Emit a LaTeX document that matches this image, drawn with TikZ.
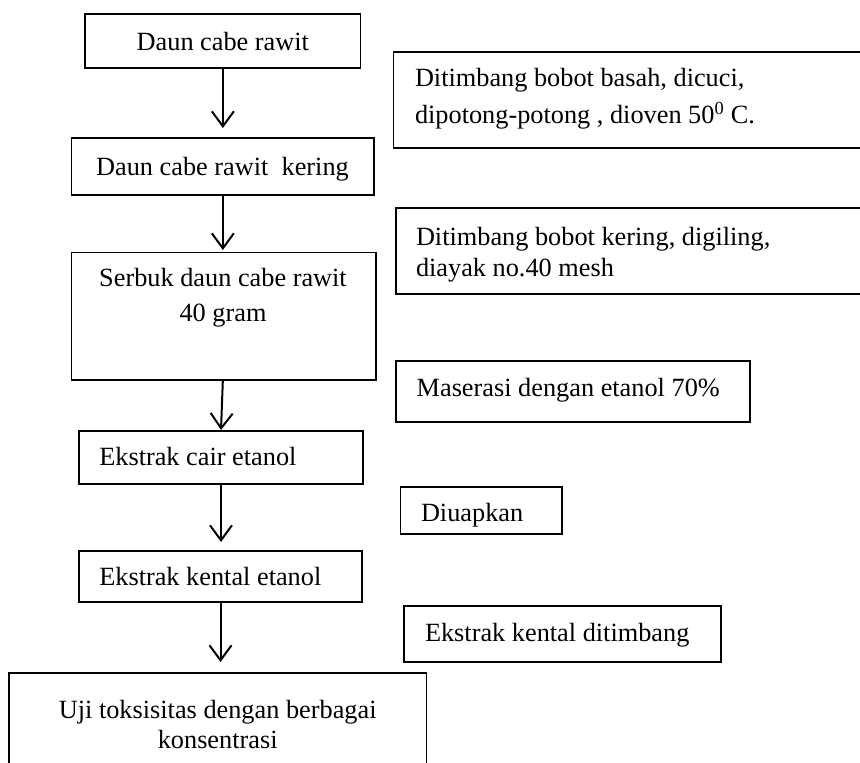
\documentclass[tikz,border=0pt]{standalone}
\usepackage{fontspec}
\setmainfont{Liberation Serif}
\usetikzlibrary{arrows.meta}
\begin{document}
\begin{tikzpicture}[x=1pt,y=-1pt,
  box/.style={draw=black,line width=1.1pt,inner sep=0pt,outer sep=0pt,rectangle},
  txt/.style={inner sep=0pt,outer sep=0pt,font=\fontsize{26.3}{32}\selectfont},
  ltxt/.style={txt,anchor=base west},
  ctxt/.style={txt,anchor=base},
  arr/.style={line width=2pt,-{Straight Barb[length=15pt,width=22pt,line width=2pt]}}]
\useasboundingbox (0,0) rectangle (860,763);
\begin{scope}
\clip (0,0) rectangle (860,763);
% left column boxes
\node[box,minimum width=275.7pt,minimum height=54pt] (b1) at (222.85,41) {};
\node[box,minimum width=302.3pt,minimum height=57pt] (b2) at (222.85,166.5) {};
\node[box,minimum width=304.3pt,minimum height=127.3pt] (b3) at (223.85,316.35) {};
\node[box,minimum width=284pt,minimum height=53pt] (b4) at (221,457.5) {};
\node[box,minimum width=283pt,minimum height=51pt] (b5) at (220.5,576.5) {};
\node[box,minimum width=417.7pt,minimum height=117pt] (b6) at (217.85,731.5) {};
% right column boxes
\node[box,minimum width=506.5pt,minimum height=96pt] (ra) at (646.75,100) {};
\node[box,minimum width=504pt,minimum height=86pt] (rb) at (648,251) {};
\node[box,minimum width=354pt,minimum height=61pt] (rc) at (573,391.5) {};
\node[box,minimum width=161.3pt,minimum height=47pt] (rd) at (481.35,510.5) {};
\node[box,minimum width=317pt,minimum height=56pt] (re) at (562.5,634) {};
% texts
\node[ctxt] (t1) at (222.85,50) {Daun cabe rawit};
\node[ctxt] (t2) at (222.5,175) {Daun cabe rawit\ \ kering};
\node[ctxt] (t3a) at (223,286.7) {Serbuk daun cabe rawit};
\node[ctxt] (t3b) at (223,321.7) {40 gram};
\node[ltxt] (t4) at (99.3,465.7) {Ekstrak cair etanol};
\node[ltxt] (t5) at (99.3,585.7) {Ekstrak kental etanol};
\node[ctxt] (t6a) at (217.7,718) {Uji toksisitas dengan berbagai};
\node[ctxt] (t6b) at (217.7,748) {konsentrasi};
\node[ltxt] (tra) at (415,86.7) {Ditimbang bobot basah, dicuci,};
\node[ltxt] (trb) at (415,123.3) {dipotong-potong , dioven 50\textsuperscript{0} C.};
\node[ltxt] (trc) at (416,245) {Ditimbang bobot kering, digiling,};
\node[ltxt] (trd) at (416,276.7) {diayak no.40 mesh};
\node[ltxt] (tre) at (416.7,396) {Maserasi dengan etanol 70\%};
\node[ltxt] (trf) at (421,521) {Diuapkan};
\node[ltxt] (trg) at (425,641) {Ekstrak kental ditimbang};
% arrows
\draw[arr] (b1.south) -- ([yshift=10pt]b2.north);
\draw[arr] (b2.south) -- ([yshift=2.7pt]b3.north -| b2.south);
\draw[arr] (b3.south -| b2.south) -- ([yshift=1pt]b4.north);
\draw[arr] (b4.south) -- ([yshift=9pt]b5.north -| b4.south);
\draw[arr] (b5.south) -- ([yshift=11pt]b6.north -| b5.south);
\end{scope}
\end{tikzpicture}
\end{document}
